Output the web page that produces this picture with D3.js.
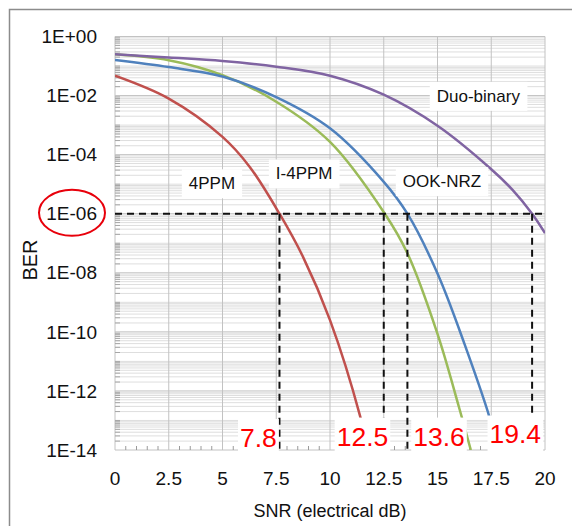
<!DOCTYPE html>
<html>
<head>
<meta charset="utf-8">
<script src="https://cdn.jsdelivr.net/npm/d3@7"></script>
<style>
  html, body { margin: 0; padding: 0; background: #fff; }
  svg { display: block; font-family: "Liberation Sans", Arial, sans-serif; }
</style>
</head>
<body>
<svg id="chart" width="572" height="526"></svg>
<script>
// BER vs SNR for four modulation formats
const snrTicks = [0, 2.5, 5, 7.5, 10, 12.5, 15, 17.5, 20];
const berTicks = [1, 1e-2, 1e-4, 1e-6, 1e-8, 1e-10, 1e-12, 1e-14];

const snr4PPM = [0, 2.5, 5, 6.25, 7.65, 8.75, 10, 11.4, 11.75];
const ber4PPM = [4.7e-2, 7.9e-3, 4.0e-4, 4.0e-5, 1e-6, 3.4e-8, 2.5e-10, 1.4e-13, 1e-14];

const snrI4PPM = [0, 2.5, 5, 7.5, 10, 12.55, 13.6, 15, 16, 16.55];
const berI4PPM = [2.5e-1, 1.58e-1, 4.9e-2, 6.2e-3, 2.7e-4, 1e-6, 4.6e-8, 8.5e-11, 2.8e-13, 1e-14];

const snrOOK = [0, 2.5, 5, 7.5, 10, 12.5, 13.6, 15, 16.25, 17.5, 17.75];
const berOOK = [1.6e-1, 9.2e-2, 4.4e-2, 8.9e-3, 7.8e-4, 1.2e-5, 1e-6, 9.5e-9, 4.0e-11, 8.0e-14, 1e-14];

const snrDuo = [0, 2.5, 5, 7.5, 10, 12.5, 15, 17.5, 18.5, 19.4, 20];
const berDuo = [2.5e-1, 1.95e-1, 1.48e-1, 9.5e-2, 4.7e-2, 1.07e-2, 9.5e-4, 3.2e-5, 6.3e-6, 1e-6, 2.2e-7];

const seriesNames = ["4PPM", "I-4PPM", "OOK-NRZ", "Duo-binary"];
const seriesSnr = [snr4PPM, snrI4PPM, snrOOK, snrDuo];
const seriesBer = [ber4PPM, berI4PPM, berOOK, berDuo];

// curve label anchors (data units)
const labelSnr = [4.51, 8.8, 15.21, 16.9];
const labelBer = [1.07e-5, 2.3e-5, 1.26e-5, 9.8e-3];

// target BER and the SNR needed to reach it
const targetBer = 1e-6;
const dropSnr = [7.65, 12.5, 13.6, 19.4];
const dropText = ["7.8", "12.5", "13.6", "19.4"];
const dropTextSnr = [6.67, 11.51, 15.07, 18.62];
const dropTextBer = [1.26e-14, 1.41e-14, 1.41e-14, 1.66e-14];

const COLORS = ["#c0504d", "#9bbb59", "#4f81bd", "#8064a2"];

const svg = d3.select("#chart");
const L = 115, R = 545, T = 36.5, B = 450;
const x = d3.scaleLinear().domain([0, 20]).range([L, R]);
const y = d3.scaleLog().domain([1, 1e-14]).range([T, B]);

// outer frame (cropped on the right and bottom)
svg.append("path").attr("d", "M9.5,526V9.5H572")
  .attr("fill", "none").attr("stroke", "#8c8c8c").attr("stroke-width", 1.5);

// minor log gridlines
const minorY = [];
for (let d = -14; d <= -1; d++) {
  for (let k = 1; k <= 9; k++) {
    if (k === 1 && d % 2 === 0) continue;
    minorY.push(k * Math.pow(10, d));
  }
}
const grid = svg.append("g");
grid.selectAll(".mny").data(minorY).enter().append("line")
  .attr("x1", L).attr("x2", R).attr("y1", (v) => y(v)).attr("y2", (v) => y(v))
  .attr("stroke", "#dedede").attr("stroke-width", 1);
grid.selectAll(".mjy").data(berTicks).enter().append("line")
  .attr("x1", L).attr("x2", R).attr("y1", (v) => y(v)).attr("y2", (v) => y(v))
  .attr("stroke", "#c2c2c2").attr("stroke-width", 1);
grid.selectAll(".mjx").data(snrTicks).enter().append("line")
  .attr("x1", (v) => x(v)).attr("x2", (v) => x(v)).attr("y1", T).attr("y2", B)
  .attr("stroke", "#c2c2c2").attr("stroke-width", 1);

// minor ticks, pointing into the plot
grid.selectAll(".tky").data(minorY).enter().append("line")
  .attr("x1", L).attr("x2", L + 5).attr("y1", (v) => y(v)).attr("y2", (v) => y(v))
  .attr("stroke", "#a6a6a6");
const minorX = d3.range(0.5, 20, 0.5).filter((v) => v % 2.5 !== 0);
grid.selectAll(".tkx").data(minorX).enter().append("line")
  .attr("x1", (v) => x(v)).attr("x2", (v) => x(v)).attr("y1", B).attr("y2", B - 4)
  .attr("stroke", "#9a9a9a");

// curves
svg.append("clipPath").attr("id", "plot").append("rect")
  .attr("x", L).attr("y", T).attr("width", R - L).attr("height", B - T);
const line = d3.line().x((p) => x(p[0])).y((p) => y(p[1]))
  .curve(d3.curveCatmullRom.alpha(0.5));
svg.append("g").attr("clip-path", "url(#plot)")
  .selectAll("path").data(seriesNames).enter().append("path")
  .attr("d", (n, i) => line(d3.zip(seriesSnr[i], seriesBer[i])))
  .attr("fill", "none").attr("stroke", (n, i) => COLORS[i]).attr("stroke-width", 2.5);

// dashed target lines
const dash = svg.append("g").attr("stroke", "#111").attr("stroke-width", 2)
  .attr("stroke-dasharray", "7,5").attr("fill", "none");
dash.append("line").attr("x1", x(0)).attr("x2", x(20))
  .attr("y1", y(targetBer)).attr("y2", y(targetBer));
dash.selectAll(".drop").data(dropSnr).enter().append("line")
  .attr("x1", (v) => x(v)).attr("x2", (v) => x(v))
  .attr("y1", y(targetBer)).attr("y2", y(1e-14));

// text with a white box behind it
function boxedText(g, tx, ty, str, size, color, pad) {
  const t = g.append("text").attr("x", tx).attr("y", ty).attr("text-anchor", "middle")
    .attr("font-size", size).attr("fill", color).text(str);
  const bb = t.node().getBBox();
  g.insert("rect", "text").attr("x", bb.x - pad[3]).attr("y", bb.y - pad[0])
    .attr("width", bb.width + pad[1] + pad[3]).attr("height", bb.height + pad[0] + pad[2])
    .attr("fill", "#fff");
}

seriesNames.forEach((n, i) => {
  const g = svg.append("g");
  boxedText(g, x(labelSnr[i]), y(labelBer[i]) + 6, n, 17, "#111", [5, 7, 5, 7]);
});
dropText.forEach((s, i) => {
  const g = svg.append("g");
  boxedText(g, x(dropTextSnr[i]), y(dropTextBer[i]), s, 26.5, "#f00", [4, 2, 6, 2]);
});

// axes labels
const ax = svg.append("g").attr("font-size", 19).attr("fill", "#111");
const fmtE = (v) => {
  const e = Math.round(Math.log10(v));
  return "1E" + (e < 0 ? "-" : "+") + String(Math.abs(e)).padStart(2, "0");
};
ax.selectAll(".yl").data(berTicks).enter().append("text")
  .attr("x", 97).attr("y", (v) => y(v)).attr("dy", "0.35em")
  .attr("text-anchor", "end").text(fmtE);
ax.selectAll(".xl").data(snrTicks).enter().append("text")
  .attr("x", (v) => x(v)).attr("y", 485).attr("text-anchor", "middle")
  .text((v) => d3.format("")(v));

svg.append("text").attr("x", 330).attr("y", 517).attr("text-anchor", "middle")
  .attr("font-size", 18).attr("fill", "#111").text("SNR (electrical dB)");
svg.append("text").attr("transform", "translate(37,260) rotate(-90)")
  .attr("text-anchor", "middle").attr("font-size", 20).attr("fill", "#111").text("BER");

// highlight of the target BER tick
svg.append("ellipse").attr("cx", 72).attr("cy", y(targetBer) - 1).attr("rx", 33).attr("ry", 23)
  .attr("fill", "none").attr("stroke", "#e8000b").attr("stroke-width", 2);
</script>
</body>
</html>
